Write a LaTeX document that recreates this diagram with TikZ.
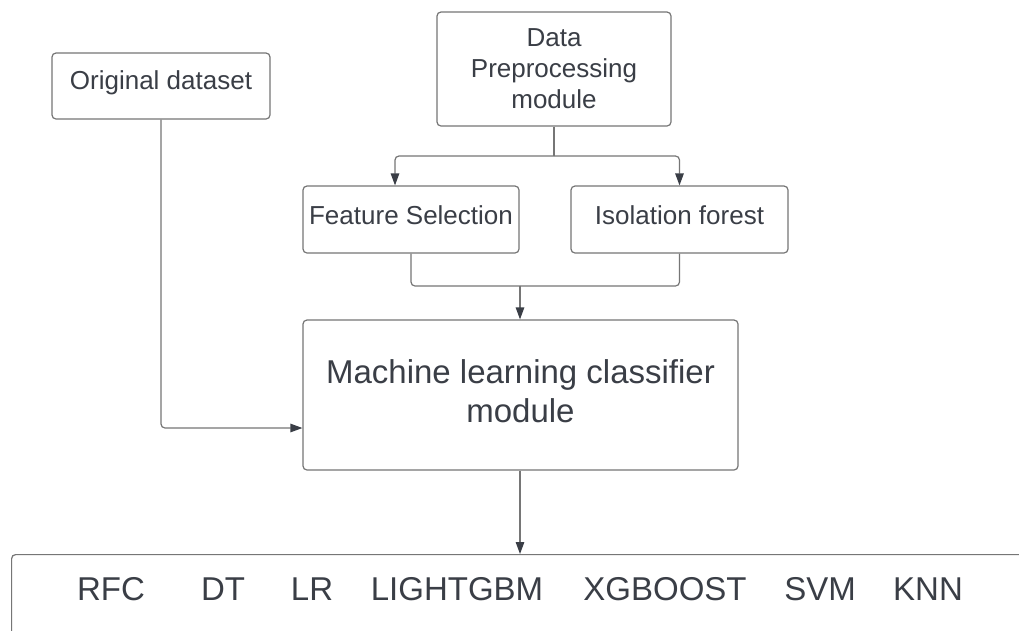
\documentclass[tikz,border=0pt]{standalone}
\usepackage{fontspec}
\setmainfont{Liberation Sans}
\usetikzlibrary{arrows.meta,calc}
\definecolor{tc}{RGB}{58,62,70}
\definecolor{lc}{RGB}{118,118,118}
\begin{document}
\begin{tikzpicture}[x=1pt,y=-1pt,
 box/.style={draw=lc,line width=1.2pt,rounded corners=4pt,text=tc,align=center,inner sep=0pt},
 conn/.style={draw=lc,line width=1.2pt,rounded corners=4pt},
 arr/.style={conn,-{Triangle[length=12pt,width=8.5pt,color=tc]}},
 f26/.style={font=\fontsize{26}{31}\selectfont},
 f33/.style={font=\fontsize{33}{39}\selectfont},
 item/.style={f33,text=tc,inner sep=0pt},
]
\clip (0,0) rectangle (1019,630);
\fill[white] (0,0) rectangle (1019,630);

\node[box,f26,minimum width=218pt,minimum height=66pt,text depth=11pt] (od) at (161,86) {Original dataset};
\node[box,f26,minimum width=234pt,minimum height=114pt] (dp) at (554,69) {Data\\Preprocessing\\module};
\node[box,f26,minimum width=216pt,minimum height=67pt,text depth=8pt] (fs) at (411,219.5) {Feature Selection};
\node[box,f26,minimum width=217pt,minimum height=67pt,text depth=8pt] (if) at (679.5,219.5) {Isolation forest};
\node[box,f33,minimum width=435pt,minimum height=150pt,text depth=8pt] (ml) at (520.5,395) {Machine learning classifier\\module};
\node[box,minimum width=1060pt,minimum height=130pt,anchor=north west] (models) at (11,554) {};

\node[item] (m1) at (111,589) {RFC};
\node[item] (m2) at (223,589) {DT};
\node[item] (m3) at (312,589) {LR};
\node[item] (m4) at (457,589) {LIGHTGBM};
\node[item] (m5) at (665,589) {XGBOOST};
\node[item] (m6) at (820,589) {SVM};
\node[item] (m7) at (928,589) {KNN};

\coordinate (split) at (554,156);
\draw[conn] (dp.south) -- (split);
\draw[arr] (split) -| ([xshift=-16pt]fs.north);
\draw[arr] (split) -| (if.north);
\coordinate (merge) at (520,286);
\draw[conn] (fs.south) |- (merge);
\draw[conn] (if.south) |- (merge);
\draw[arr] (merge) -- (merge |- ml.north);
\draw[arr] (od.south) |- ([yshift=-33pt]ml.west);
\draw[arr] (ml.south -| merge) -- (merge |- models.north);
\end{tikzpicture}
\end{document}
